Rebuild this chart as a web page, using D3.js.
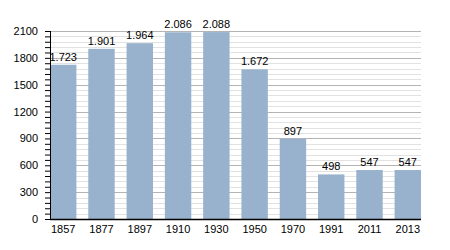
<!DOCTYPE html>
<html>
<head>
<meta charset="utf-8">
<script src="https://cdn.jsdelivr.net/npm/d3@7"></script>
<style>
  body { margin: 0; background: #fff; }
  text { font-family: "Liberation Sans", Arial, sans-serif; font-size: 11px; fill: #000; }
</style>
</head>
<body>
<div id="chart"></div>
<script>
var years = ["1857", "1877", "1897", "1910", "1930", "1950", "1970", "1991", "2011", "2013"];
var population = [1723, 1901, 1964, 2086, 2088, 1672, 897, 498, 547, 547];
var yTicks = [0, 300, 600, 900, 1200, 1500, 1800, 2100];

var margin = {top: 31, right: 29, bottom: 31, left: 50},
    width = 450 - margin.left - margin.right,
    height = 250 - margin.top - margin.bottom;

var formatDe = d3.formatLocale({decimal: ",", thousands: ".", grouping: [3], currency: ["", "€"]}).format(",d");

var x = d3.scaleBand()
    .domain(years)
    .range([0, width])
    .paddingInner(0.31)
    .paddingOuter(0);

var y = d3.scaleLinear()
    .domain([0, 2100])
    .range([height, 0]);

var svg = d3.select('#chart').append('svg')
    .attr('width', 450)
    .attr('height', 250)
    .append('g')
    .attr('transform', 'translate(' + margin.left + ',' + margin.top + ')');

// minor grid every 60, major every 300
var minor = d3.range(0, 2101, 60).filter(function(v) { return yTicks.indexOf(v) < 0; });
svg.selectAll('.minor')
    .data(minor)
    .enter().append('line')
    .attr('x1', 0).attr('x2', width)
    .attr('y1', function(d) { return Math.round(y(d)) + 0.5; })
    .attr('y2', function(d) { return Math.round(y(d)) + 0.5; })
    .attr('stroke', '#e2e2e2');

svg.selectAll('.major')
    .data(yTicks.slice(1))
    .enter().append('line')
    .attr('x1', 0).attr('x2', width)
    .attr('y1', function(d) { return Math.round(y(d)) + 0.5; })
    .attr('y2', function(d) { return Math.round(y(d)) + 0.5; })
    .attr('stroke', '#b4b4b4');

svg.selectAll('.bar')
    .data(population)
    .enter().append('rect')
    .attr('x', function(d, i) { return x(years[i]); })
    .attr('width', x.bandwidth())
    .attr('y', function(d) { return y(d); })
    .attr('height', function(d) { return height - y(d); })
    .attr('fill', '#98b2cd');

svg.selectAll('.val')
    .data(population)
    .enter().append('text')
    .attr('x', function(d, i) { return x(years[i]) + x.bandwidth() / 2; })
    .attr('y', function(d) { return y(d) - 4; })
    .attr('text-anchor', 'middle')
    .text(function(d) { return formatDe(d); });

var yAxis = d3.axisLeft(y)
    .tickValues(d3.range(0, 2101, 60))
    .tickSize(5)
    .tickFormat(function(d) { return yTicks.indexOf(d) >= 0 ? d : ''; });

var gy = svg.append('g').call(yAxis);
gy.select('.domain').remove();
gy.selectAll('.tick line').attr('stroke', '#000');
gy.selectAll('.tick text').attr('x', -12).style('font-size', '11px').style('font-family', '"Liberation Sans", Arial, sans-serif');
gy.append('line')
    .attr('x1', 0.5).attr('x2', 0.5)
    .attr('y1', 0).attr('y2', height)
    .attr('stroke', '#000');

var xAxis = d3.axisBottom(x).tickSize(0).tickPadding(6);
var gx = svg.append('g')
    .attr('transform', 'translate(0,' + height + ')')
    .call(xAxis);
gx.select('.domain').remove();
gx.selectAll('.tick text').style('font-size', '11px').style('font-family', '"Liberation Sans", Arial, sans-serif');
gx.append('line')
    .attr('x1', 0).attr('x2', width)
    .attr('y1', 0.5).attr('y2', 0.5)
    .attr('stroke', '#000')
    .attr('stroke-width', 1.5);
</script>
</body>
</html>
